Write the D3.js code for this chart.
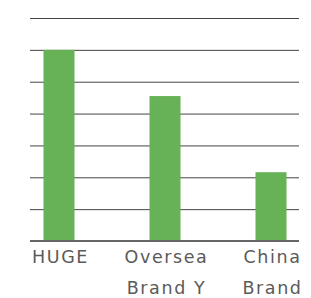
<!DOCTYPE html>
<html>
<head>
<meta charset="utf-8">
<script src="https://cdn.jsdelivr.net/npm/d3@7"></script>
<style>
  body { margin: 0; background: #fff; }
</style>
</head>
<body>
<svg id="chart"></svg>
<script>
// chart data
const categories = ["HUGE", "Oversea Brand Y", "China Brand"];
const labelLines = [["HUGE"], ["Oversea", "Brand Y"], ["China", "Brand"]];
const values = [6, 4.55, 2.16];
const yTicks = [0, 1, 2, 3, 4, 5, 6, 7];

const width = 311;
const height = 298;
const marginTop = 18;
const marginBottom = 57;
const marginLeft = 30;
const marginRight = 12;

const barWidth = 31;

const svg = d3.select("#chart")
    .attr("width", width)
    .attr("height", height);

const x = d3.scalePoint()
    .domain(categories)
    .range([59, 271]);

const y = d3.scaleLinear()
    .domain([0, 7])
    .range([height - marginBottom, marginTop]);

// gridlines (behind the bars)
const grid = svg.append("g")
    .attr("transform", `translate(${marginLeft},0)`)
    .call(d3.axisLeft(y).tickValues(yTicks).tickSize(-(width - marginLeft - marginRight)).tickFormat(""));
grid.select(".domain").remove();
grid.selectAll(".tick line")
    .attr("stroke", "#444")
    .attr("stroke-width", 1);

// bars
svg.append("g")
  .selectAll("rect")
  .data(values)
  .join("rect")
    .attr("x", (d, i) => x(categories[i]) - barWidth / 2)
    .attr("y", d => y(d))
    .attr("width", barWidth)
    .attr("height", d => y(0) - y(d))
    .attr("fill", "#67b257");

// baseline
svg.append("line")
    .attr("x1", marginLeft).attr("x2", width - marginRight)
    .attr("y1", y(0)).attr("y2", y(0))
    .attr("stroke", "#666")
    .attr("stroke-width", 2);

// category labels
const xAxis = svg.append("g")
    .attr("transform", `translate(0,${y(0)})`)
    .call(d3.axisBottom(x).tickSize(0).tickFormat(""));
xAxis.select(".domain").remove();

xAxis.selectAll(".tick").each(function(d, i) {
  const t = d3.select(this).append("text")
      .attr("fill", "#5a5a5a")
      .attr("text-anchor", "middle")
      .attr("font-family", "'DejaVu Sans', sans-serif")
      .attr("font-size", 17.5)
      .attr("letter-spacing", 1.6);
  labelLines[i].forEach((line, j) => {
    t.append("tspan").attr("x", 1).attr("y", 22 + j * 31).text(line);
  });
});
</script>
</body>
</html>
